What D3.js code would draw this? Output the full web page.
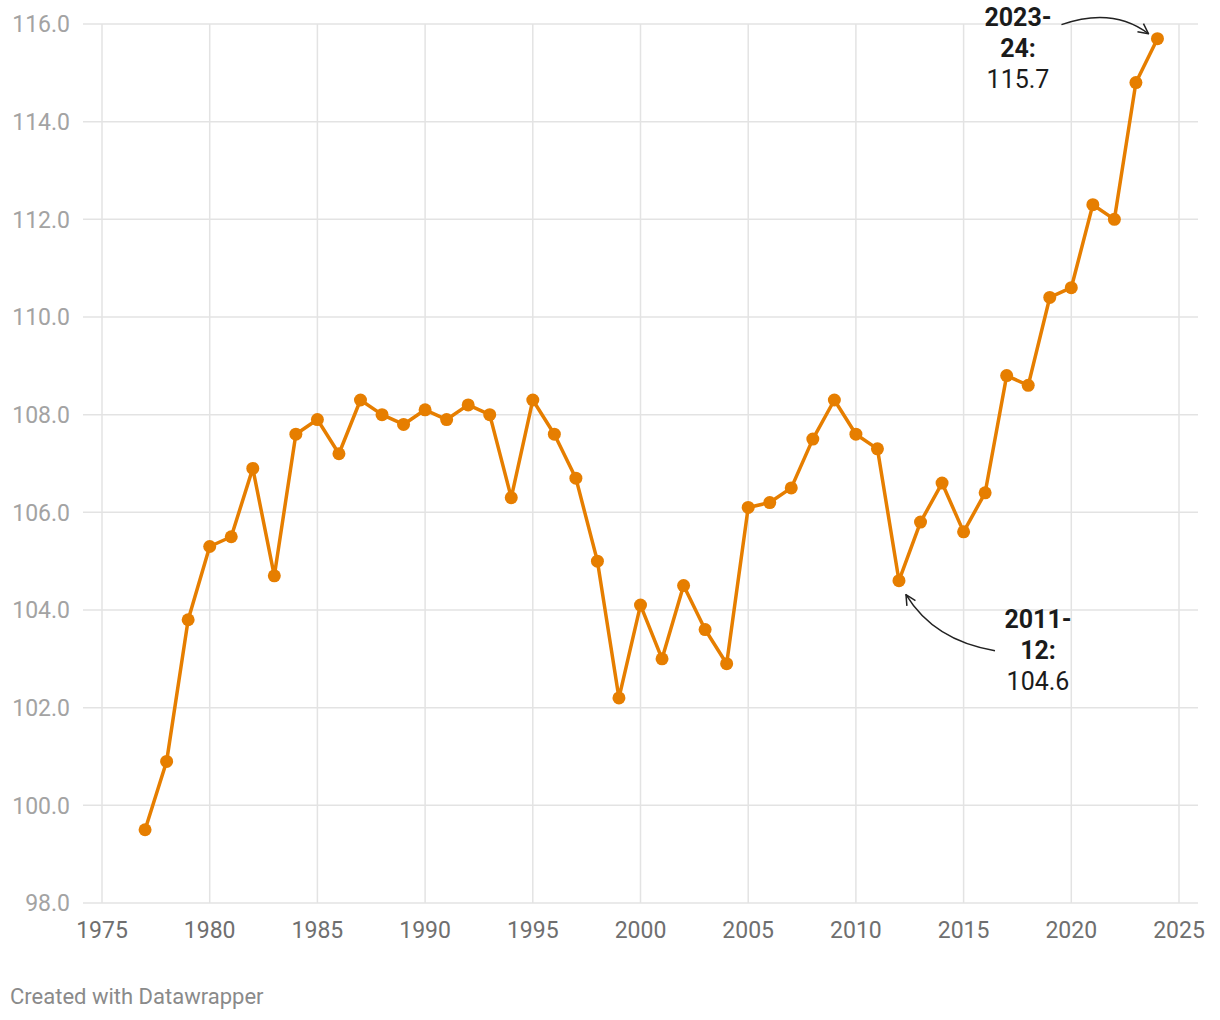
<!DOCTYPE html>
<meta charset="utf-8">
<style>
  body { margin: 0; background: #fff; font-family: Roboto, sans-serif; }
  .grid line { stroke: #e3e3e3; stroke-width: 1.5; }
  .ylab { fill: #a3a3a3; font-size: 23px; }
  .xlab { fill: #6f6f6f; font-size: 23px; }
</style>
<body>
<script src="https://cdn.jsdelivr.net/npm/d3@7"></script>
<script>

// data
var years = [1977, 1978, 1979, 1980, 1981, 1982, 1983, 1984, 1985, 1986,
             1987, 1988, 1989, 1990, 1991, 1992, 1993, 1994, 1995, 1996,
             1997, 1998, 1999, 2000, 2001, 2002, 2003, 2004, 2005, 2006,
             2007, 2008, 2009, 2010, 2011, 2012, 2013, 2014, 2015, 2016,
             2017, 2018, 2019, 2020, 2021, 2022, 2023, 2024];
var values = [99.5, 100.9, 103.8, 105.3, 105.5, 106.9, 104.7, 107.6, 107.9, 107.2,
              108.3, 108.0, 107.8, 108.1, 107.9, 108.2, 108.0, 106.3, 108.3, 107.6,
              106.7, 105.0, 102.2, 104.1, 103.0, 104.5, 103.6, 102.9, 106.1, 106.2,
              106.5, 107.5, 108.3, 107.6, 107.3, 104.6, 105.8, 106.6, 105.6, 106.4,
              108.8, 108.6, 110.4, 110.6, 112.3, 112.0, 114.8, 115.7];
var yTicks = [98, 100, 102, 104, 106, 108, 110, 112, 114, 116];
var xTicks = [1975, 1980, 1985, 1990, 1995, 2000, 2005, 2010, 2015, 2020, 2025];
var notes = [
  {year: 2024, value: 115.7, lines: ["2023-", "24:"], label: "115.7"},
  {year: 2012, value: 104.6, lines: ["2011-", "12:"], label: "104.6"}
];

var W = 1220, H = 1020;
var color = "#e67e00";

var x = d3.scaleLinear().domain([1975, 2025]).range([102, 1179]);
var y = d3.scaleLinear().domain([98, 116]).range([903, 24]);

var svg = d3.select("body").append("svg")
    .attr("width", W)
    .attr("height", H);

// grid
var grid = svg.append("g").attr("class", "grid");
grid.selectAll(".v").data(xTicks).enter().append("line")
    .attr("x1", function(d) { return x(d); })
    .attr("x2", function(d) { return x(d); })
    .attr("y1", y(116))
    .attr("y2", y(98));
grid.selectAll(".h").data(yTicks).enter().append("line")
    .attr("x1", 83)
    .attr("x2", 1198)
    .attr("y1", function(d) { return y(d); })
    .attr("y2", function(d) { return y(d); });

// axis labels
svg.selectAll(".ylab").data(yTicks).enter().append("text")
    .attr("class", "ylab")
    .attr("x", 70)
    .attr("y", function(d) { return y(d); })
    .attr("dy", "0.36em")
    .attr("text-anchor", "end")
    .text(function(d) { return d.toFixed(1); });

svg.selectAll(".xlab").data(xTicks).enter().append("text")
    .attr("class", "xlab")
    .attr("x", function(d) { return x(d); })
    .attr("y", 938)
    .attr("text-anchor", "middle")
    .text(function(d) { return d; });

// line + dots
var pts = years.map(function(yr, i) { return [yr, values[i]]; });

svg.append("path")
    .datum(pts)
    .attr("fill", "none")
    .attr("stroke", color)
    .attr("stroke-width", 3.5)
    .attr("stroke-linejoin", "round")
    .attr("d", d3.line()
      .x(function(d) { return x(d[0]); })
      .y(function(d) { return y(d[1]); }));

svg.selectAll(".dot").data(pts).enter().append("circle")
    .attr("class", "dot")
    .attr("r", 6.5)
    .attr("cx", function(d) { return x(d[0]); })
    .attr("cy", function(d) { return y(d[1]); })
    .attr("fill", color);

// annotations
svg.append("defs").append("marker")
    .attr("id", "head")
    .attr("viewBox", "0 0 12 12")
    .attr("refX", 11).attr("refY", 6)
    .attr("markerWidth", 12).attr("markerHeight", 12)
    .attr("markerUnits", "userSpaceOnUse")
    .attr("orient", "auto")
  .append("path")
    .attr("d", "M1,1 L11,6 L1,11")
    .attr("fill", "none")
    .attr("stroke", "#222")
    .attr("stroke-width", 1.5);

function note(n, tx, ty, path) {
  var t = svg.append("text")
      .attr("text-anchor", "middle")
      .style("font-size", "25px")
      .style("fill", "#1b1b1b");
  n.lines.forEach(function(l, i) {
    t.append("tspan").attr("x", tx).attr("y", ty + i * 31)
      .style("font-weight", "bold").text(l);
  });
  t.append("tspan").attr("x", tx).attr("y", ty + n.lines.length * 31).text(n.label);
  svg.append("path")
      .attr("d", path)
      .attr("fill", "none")
      .attr("stroke", "#222")
      .attr("stroke-width", 1.5)
      .attr("marker-end", "url(#head)");
}

var a = notes[0], px = x(a.year), py = y(a.value);
note(a, 1018, 26,
  "M" + (px - 96) + "," + (py - 14) + " Q" + (px - 45) + "," + (py - 32) + " " + (px - 9) + "," + (py - 5));

var b = notes[1];
px = x(b.year); py = y(b.value);
note(b, 1038, 628,
  "M" + (px + 96) + "," + (py + 70) + " Q" + (px + 35) + "," + (py + 60) + " " + (px + 7) + "," + (py + 14));

// footer
svg.append("text")
    .attr("x", 10)
    .attr("y", 1004)
    .style("font-size", "22px")
    .style("fill", "#8a8a8a")
    .text("Created with Datawrapper");

</script>
</body>
